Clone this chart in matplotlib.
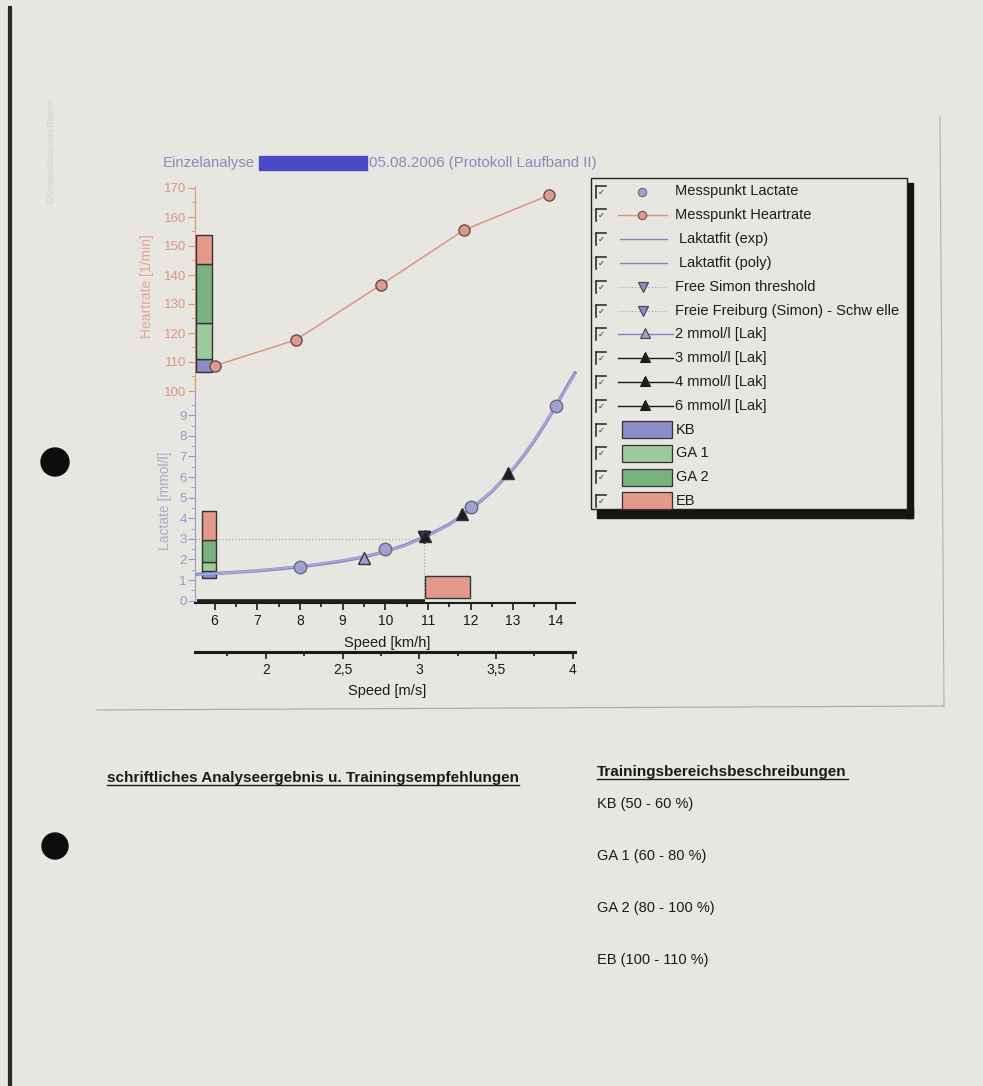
import matplotlib
matplotlib.use('Agg')
import matplotlib.pyplot as plt
from matplotlib import font_manager
from matplotlib.patches import Rectangle, Circle
from matplotlib.ticker import FixedLocator

W, H = 983, 1086


def has_font(name):
    try:
        font_manager.findfont(name, fallback_to_default=False)
        return True
    except Exception:
        return False


BASE = 'Liberation Sans' if has_font('Liberation Sans') else 'DejaVu Sans'
NARROW = 'Liberation Sans Narrow' if has_font('Liberation Sans Narrow') else BASE
plt.rcParams['font.family'] = [BASE, 'DejaVu Sans']

# ---------------- data ----------------
speed_hr = [6.0, 7.9, 9.9, 11.85, 13.85]
heartrate = [108.7, 117.6, 136.6, 155.5, 167.6]

speed_lac = [8.0, 10.0, 12.0, 14.0]
lactate = [1.66, 2.52, 4.55, 9.43]

fit_speed = [5.6, 6.0, 6.5, 7.0, 7.5, 8.0, 8.5, 9.0, 9.5, 10.0, 10.5, 11.0,
             11.5, 12.0, 12.5, 13.0, 13.25, 13.5, 13.75, 14.0, 14.25, 14.45]
fit_exp = [1.28, 1.32, 1.38, 1.45, 1.54, 1.65, 1.78, 1.93, 2.12, 2.38, 2.72, 3.17,
           3.70, 4.42, 5.30, 6.40, 7.05, 7.78, 8.58, 9.45, 10.35, 11.05]
fit_poly = [1.26, 1.31, 1.38, 1.46, 1.56, 1.67, 1.80, 1.95, 2.13, 2.38, 2.70, 3.14,
            3.68, 4.42, 5.32, 6.42, 7.07, 7.80, 8.60, 9.45, 10.30, 11.00]

simon_speed, simon_lac = 10.9, 3.1
simon_level = 3.0
lak_names = ['2 mmol/l [Lak]', '3 mmol/l [Lak]', '4 mmol/l [Lak]', '6 mmol/l [Lak]']
lak_speed = [9.5, 10.93, 11.8, 12.87]
lak_value = [2.05, 3.12, 4.2, 6.2]

zone_names = ['KB', 'GA 1', 'GA 2', 'EB']
zone_colors = ['#8c8cc8', '#9cca9a', '#79b17f', '#e39a8b']
hr_zone_bounds = [106.7, 111.0, 123.6, 143.8, 153.8]
lac_zone_bounds = [1.12, 1.44, 1.86, 2.95, 4.37]
speed_zone_low = (5.59, 10.94)     # KB..GA 2 (collapsed to a line)
speed_zone_eb = (10.94, 11.99, 0.12, 1.2)

kmh_ticks = [6, 7, 8, 9, 10, 11, 12, 13, 14]
ms_ticks = [2, 2.5, 3, 3.5, 4]
ms_labels = ['2', '2,5', '3', '3,5', '4']
hr_ticks = [100, 110, 120, 130, 140, 150, 160, 170]
lac_ticks = [0, 1, 2, 3, 4, 5, 6, 7, 8, 9]

PAPER = '#e8e6e1'
SALMON = '#dc9484'
LAV = '#9a9ac6'
FIT1 = '#8484c8'
FIT2 = '#a9a9da'

fig = plt.figure(figsize=(W / 100, H / 100), dpi=100, facecolor=PAPER)


def box(x0, y0, x1, y1):
    return [x0 / W, 1 - y1 / H, (x1 - x0) / W, (y1 - y0) / H]


# page background axes in pixel coords
bg = fig.add_axes([0, 0, 1, 1], zorder=-5)
bg.set_xlim(0, W)
bg.set_ylim(H, 0)
bg.axis('off')
bg.set_facecolor(PAPER)

# page decorations
bg.plot([10, 10], [8, H], color='#2a2a2a', lw=3)
bg.plot([97, 944], [710, 706], color='#a8a8a8', lw=0.8)
bg.plot([944, 940], [706, 117], color='#b0b0b0', lw=0.8)
bg.add_patch(Circle((55, 462), 14, color='#0d0d0d'))
bg.add_patch(Circle((55, 846), 13, color='#0d0d0d'))
bg.text(52, 150, 'Olympiastützpunkt Bayern', rotation=90, ha='center', va='center',
        fontsize=6.5, color='#d3d1cc')

# title
bg.text(163, 163, 'Einzelanalyse', fontsize=10.7, color='#8a8abb', va='center', ha='left')
bg.add_patch(Rectangle((259, 156), 108, 14, color='#4b4bc9'))
bg.text(369, 163, '05.08.2006 (Protokoll Laufband II)', fontsize=10.8, color='#8a8abb',
        va='center', ha='left')

# ---------------- chart axes ----------------
PX_LAC = 20.6
axL = fig.add_axes(box(195, 186, 575, 603))
axL.set_facecolor('none')
axL.set_xlim(5.54, 14.45)
lac_bottom = -2.3 / PX_LAC
axL.set_ylim(lac_bottom, lac_bottom + (603 - 186) / PX_LAC)

axH = fig.add_axes(box(195, 186, 575, 391))
axH.set_facecolor('none')
axH.set_xlim(axL.get_xlim())
axH.set_ylim(100, 100 + 205 / 2.9)

for s in ['top', 'right']:
    axL.spines[s].set_visible(False)
for s in ['top', 'right', 'bottom']:
    axH.spines[s].set_visible(False)
axL.spines['left'].set_bounds(lac_bottom, 10.2)
axL.spines['left'].set_color(LAV)
axL.spines['bottom'].set_color('#1a1a1a')
axL.spines['bottom'].set_linewidth(1.5)
axH.spines['left'].set_color(SALMON)

axH.set_xticks([])
axH.set_yticks(hr_ticks)
axH.yaxis.set_minor_locator(FixedLocator([105, 115, 125, 135, 145, 155, 165]))
axH.tick_params(axis='y', which='both', colors=SALMON, labelsize=9.5, pad=1)
axH.tick_params(axis='y', which='major', length=5)
axH.tick_params(axis='y', which='minor', length=3)

axL.set_yticks(lac_ticks)
axL.yaxis.set_minor_locator(FixedLocator([v + 0.5 for v in lac_ticks]))
axL.tick_params(axis='y', which='both', colors=LAV, labelsize=9.5, pad=1)
axL.tick_params(axis='y', which='major', length=5)
axL.tick_params(axis='y', which='minor', length=3)

axL.set_xticks(kmh_ticks)
axL.xaxis.set_minor_locator(FixedLocator([v + 0.5 for v in kmh_ticks[:-1]]))
axL.tick_params(axis='x', which='both', colors='#1a1a1a', labelsize=10, width=1.2)
axL.tick_params(axis='x', which='major', length=5, pad=3)
axL.tick_params(axis='x', which='minor', length=3)

sec = axL.secondary_xaxis(-(652 - 603) / (603 - 186),
                          functions=(lambda v: v / 3.6, lambda v: v * 3.6))
sec.set_xticks(ms_ticks, labels=ms_labels)
sec.xaxis.set_minor_locator(FixedLocator([1.75, 2.25, 2.75, 3.25, 3.75]))
sec.spines['bottom'].set_linewidth(2.2)
sec.spines['bottom'].set_color('#1a1a1a')
sec.tick_params(axis='x', which='both', colors='#1a1a1a', labelsize=10, width=1.2)
sec.tick_params(axis='x', which='major', length=5, pad=3)
sec.tick_params(axis='x', which='minor', length=3)

# axis titles
bg.text(147, 286, 'Heartrate [1/min]', rotation=90, ha='center', va='center',
        fontsize=10, color='#e0a597')
bg.text(165, 501, 'Lactate [mmol/l]', rotation=90, ha='center', va='center',
        fontsize=10, color='#a9a9cf')
bg.text(387, 643, 'Speed [km/h]', ha='center', va='center', fontsize=10.5, color='#1a1a1a')
bg.text(387, 691, 'Speed [m/s]', ha='center', va='center', fontsize=10.5, color='#1a1a1a')

# zone bars (heart rate)
for i in range(4):
    axH.bar(5.574, hr_zone_bounds[i + 1] - hr_zone_bounds[i], width=0.376,
            bottom=hr_zone_bounds[i], align='edge', color=zone_colors[i],
            edgecolor='#333333', linewidth=1.0, zorder=3)
# zone bars (lactate)
for i in range(4):
    axL.bar(5.70, lac_zone_bounds[i + 1] - lac_zone_bounds[i], width=0.33,
            bottom=lac_zone_bounds[i], align='edge', color=zone_colors[i],
            edgecolor='#333333', linewidth=1.0, zorder=3)
# zone bars (speed)
axL.plot(list(speed_zone_low), [0.0, 0.0], color='#1f1f1f', lw=2.6,
         solid_capstyle='butt', clip_on=False, zorder=4)
axL.bar(speed_zone_eb[0], speed_zone_eb[3] - speed_zone_eb[2],
        width=speed_zone_eb[1] - speed_zone_eb[0], bottom=speed_zone_eb[2],
        align='edge', color=zone_colors[3], edgecolor='#333333', linewidth=1.0, zorder=3)

# heart rate
axH.plot(speed_hr, heartrate, color=SALMON, lw=1.1, marker='o', markersize=8,
         markerfacecolor='#e09a8a', markeredgecolor='#5a5050', markeredgewidth=1.0,
         zorder=5, clip_on=False)

# threshold guides
axL.plot([axL.get_xlim()[0], simon_speed], [simon_level, simon_level], color='#a0a0a0',
         lw=0.8, ls=(0, (1, 2)), zorder=2)
axL.plot([simon_speed, simon_speed], [simon_level, 0], color='#a0a0a0', lw=0.8,
         ls=(0, (1, 2)), zorder=2)

# lactate fits
axL.plot(fit_speed, fit_exp, color=FIT1, lw=2.4, zorder=4, clip_on=False)
axL.plot(fit_speed, fit_poly, color=FIT2, lw=1.3, zorder=4, clip_on=False)

# lactate points
axL.plot(speed_lac, lactate, ls='none', marker='o', markersize=9,
         markerfacecolor='#a0a0d2', markeredgecolor='#6a6a7a', markeredgewidth=1.0, zorder=6)

# thresholds
axL.plot([simon_speed], [simon_lac], ls='none', marker='v', markersize=9,
         markerfacecolor='#3a3a4a', markeredgecolor='#222222', zorder=7)
axL.plot([simon_speed], [simon_lac], ls='none', marker='v', markersize=9,
         markerfacecolor='#3a3a4a', markeredgecolor='#222222', zorder=7)
for i in range(4):
    fc = '#9c9cd0' if i == 0 else '#1c1c1c'
    axL.plot([lak_speed[i]], [lak_value[i]], ls='none', marker='^', markersize=9,
             markerfacecolor=fc, markeredgecolor='#333333', markeredgewidth=1.0, zorder=8)

# ---------------- legend (page coords) ----------------
bg.add_patch(Rectangle((906, 183), 7, 335, color='#151515'))
bg.add_patch(Rectangle((597, 509), 316, 9, color='#151515'))
bg.add_patch(Rectangle((591, 178), 316, 331, facecolor=PAPER, edgecolor='#222222', lw=1.0))

legend_labels = ['Messpunkt Lactate', 'Messpunkt Heartrate', 'Laktatfit (exp)',
                 'Laktatfit (poly)', 'Free Simon threshold',
                 'Freie Freiburg (Simon) - Schw elle'] + lak_names + zone_names
row0, step = 191.5, 23.8
for r, lab in enumerate(legend_labels):
    y = row0 + r * step
    # checkbox
    bg.plot([596, 596], [y - 6, y + 6], color='#333333', lw=1.2)
    bg.plot([596, 606], [y - 6, y - 6], color='#333333', lw=1.2)
    bg.text(601.5, y + 0.5, '✓', fontsize=6, ha='center', va='center', color='#333333',
            family='DejaVu Sans')
    tx = 675
    if r == 0:
        bg.plot([642], [y], marker='o', ms=6, mfc='#a0a0d2', mec='#6a6a7a', mew=0.8)
    elif r == 1:
        bg.plot([618, 667], [y, y], color=SALMON, lw=1.0)
        bg.plot([642], [y], marker='o', ms=6, mfc='#e09a8a', mec='#6a5050', mew=0.8)
    elif r in (2, 3):
        bg.plot([620, 667], [y, y], color=FIT1, lw=1.0)
        tx = 679
    elif r in (4, 5):
        bg.plot([618, 667], [y, y], color='#a0a0a0', lw=0.8, ls=(0, (1, 2)))
        bg.plot([643], [y], marker='v', ms=7, mfc='#8c8cc8', mec='#444444', mew=0.8)
    elif r == 6:
        bg.plot([618, 673], [y, y], color=FIT1, lw=1.0)
        bg.plot([645], [y - 1], marker='^', ms=7, mfc='#9c9cd0', mec='#444444', mew=0.8)
    elif r in (7, 8, 9):
        bg.plot([618, 673], [y, y], color='#1c1c1c', lw=1.0)
        bg.plot([645], [y - 1], marker='^', ms=7, mfc='#1c1c1c', mec='#1c1c1c', mew=0.8)
    else:
        zi = r - 10
        bg.add_patch(Rectangle((622, y - 8.5), 50, 17, facecolor=zone_colors[zi],
                               edgecolor='#333333', lw=0.9))
        tx = 676
    bg.text(tx, y, lab, fontsize=10.5, ha='left', va='center', color='#1c1c1c')

# ---------------- lower text ----------------
bg.text(107, 778, 'schriftliches Analyseergebnis u. Trainingsempfehlungen',
        fontsize=11, fontweight='bold', family=[NARROW, 'DejaVu Sans'],
        ha='left', va='center', color='#1a1a1a')
bg.text(597, 772, 'Trainingsbereichsbeschreibungen', fontsize=11, fontweight='bold',
        family=[NARROW, 'DejaVu Sans'], ha='left', va='center', color='#1a1a1a')
bg.plot([107, 519], [785, 785], color='#1a1a1a', lw=1.0)
bg.plot([597, 848], [779, 779], color='#1a1a1a', lw=1.0)
for txt, yy in zip(['KB (50 - 60 %)', 'GA 1 (60 - 80 %)', 'GA 2 (80 - 100 %)',
                    'EB (100 - 110 %)'], [804, 856, 908, 960]):
    bg.text(597, yy, txt, fontsize=10.5, family=[NARROW, 'DejaVu Sans'], ha='left',
            va='center', color='#1a1a1a')

fig.savefig('out.png', dpi=100, facecolor=PAPER)
